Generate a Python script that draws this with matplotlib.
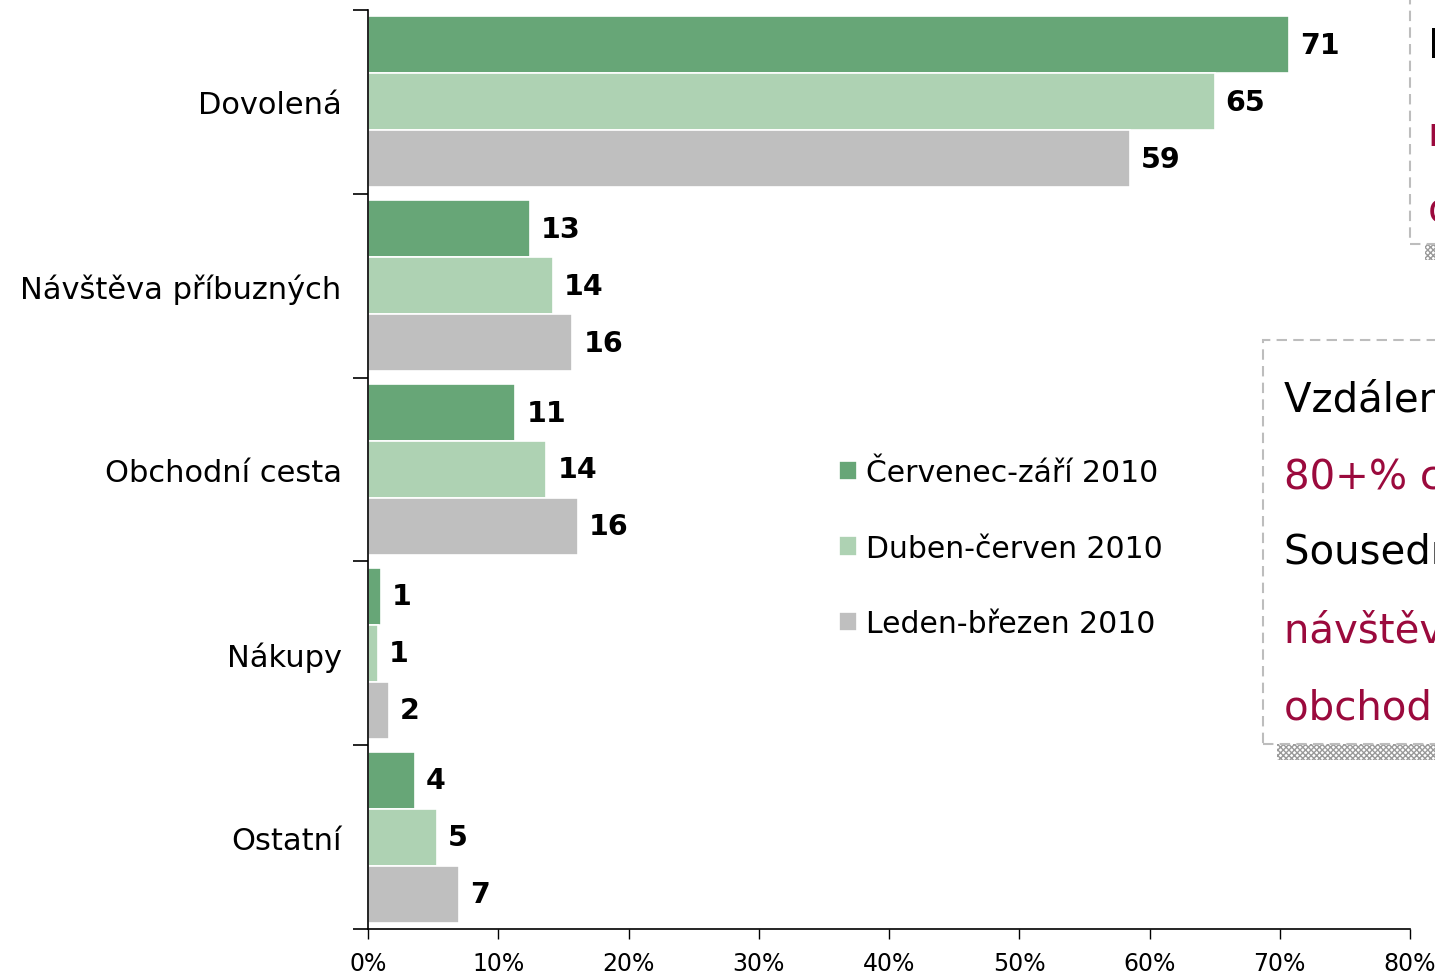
import matplotlib.pyplot as plt
import numpy as np
from matplotlib.patches import Rectangle

# data
categories = ['Dovolená', 'Návštěva příbuzných', 'Obchodní cesta', 'Nákupy', 'Ostatní']
series_names = ['Červenec-září 2010', 'Duben-červen 2010', 'Leden-březen 2010']
jul_sep = [70.7, 12.4, 11.3, 1.0, 3.6]
apr_jun = [65.0, 14.2, 13.7, 0.75, 5.3]
jan_mar = [58.5, 15.7, 16.1, 1.6, 7.0]
jul_sep_lbl = [71, 13, 11, 1, 4]
apr_jun_lbl = [65, 14, 14, 1, 5]
jan_mar_lbl = [59, 16, 16, 2, 7]
x_ticks = [0, 10, 20, 30, 40, 50, 60, 70, 80]

colors = ['#67A677', '#AED2B3', '#BFBFBF']
red = '#9B0A3D'

fig = plt.figure(figsize=(14.35, 9.78), dpi=100)
W, H = 1435, 978
ax = fig.add_axes([368 / W, 48 / H, 1042 / W, 919 / H])

y = np.arange(len(categories))
h = 0.31
values = [jul_sep, apr_jun, jan_mar]
labels = [jul_sep_lbl, apr_jun_lbl, jan_mar_lbl]
for i in range(3):
    pos = y + (i - 1) * h
    ax.barh(pos, values[i], height=h, color=colors[i], edgecolor='white',
            linewidth=1.2, label=series_names[i])
    for p, v, t in zip(pos, values[i], labels[i]):
        ax.text(v + 0.85, p, str(t), va='center', ha='left', fontsize=20.5,
                fontweight='bold', color='black')

ax.set_xlim(0, 80)
ax.set_ylim(len(categories) - 0.5, -0.5)

# y axis: ticks at category borders, labels at centers
ax.set_yticks(np.arange(-0.5, len(categories), 1.0))
ax.set_yticklabels([])
ax.set_yticks(y, minor=True)
ax.set_yticklabels(categories, minor=True, fontsize=22)
ax.tick_params(axis='y', which='major', length=11, width=1.2, direction='out')
ax.tick_params(axis='y', which='minor', length=0, pad=19)

ax.set_xticks(x_ticks)
ax.set_xticklabels([f'{t}%' for t in x_ticks], fontsize=17)
ax.tick_params(axis='x', length=7, width=1, direction='out', pad=9)

for s in ['top', 'right']:
    ax.spines[s].set_visible(False)
ax.spines['left'].set_linewidth(1.2)
ax.spines['bottom'].set_linewidth(1.2)

fig.legend(loc='upper left', bbox_to_anchor=(824 / W, 1 - 444 / H), frameon=False,
           fontsize=21.5, handlelength=0.62, handleheight=0.62, handletextpad=0.27,
           labelspacing=1.56, borderpad=0)

# annotation boxes on the right (cut by the figure edge, as in the slide)
def box(x0, y_top, y_bot, sh_x):
    fig.patches.append(Rectangle((sh_x / W, 1 - (y_bot + 16) / H), 1, 16 / H,
                                 transform=fig.transFigure, facecolor='white',
                                 edgecolor='#9A9A9A', hatch='xxxxxx', linewidth=0))
    fig.patches.append(Rectangle((x0 / W, 1 - y_bot / H), 1, (y_bot - y_top) / H,
                                 transform=fig.transFigure, facecolor='white',
                                 edgecolor='#BDBDBD', linestyle=(0, (5, 3)),
                                 linewidth=1.5))

box(1410, -20, 245, 1425)
box(1263, 341, 745, 1277)

top_lines = [('Dovolená', 'black', 47), ('nejčastějším důvodem', red, 133),
             ('obou kategorií', red, 210)]
for t, c, yy in top_lines:
    fig.text(1428 / W, 1 - yy / H, t, color=c, fontsize=29, va='center', ha='left')

box_lines = [('Vzdálenější trhy:', 'black', 400), ('80+% cest za dovolenou', red, 478),
             ('Sousední země:', 'black', 553), ('návštěvy příbuzných a', red, 631),
             ('obchodní cesty', red, 708)]
for t, c, yy in box_lines:
    fig.text(1284 / W, 1 - yy / H, t, color=c, fontsize=29, va='center', ha='left')

fig.savefig('out.png', dpi=100)
